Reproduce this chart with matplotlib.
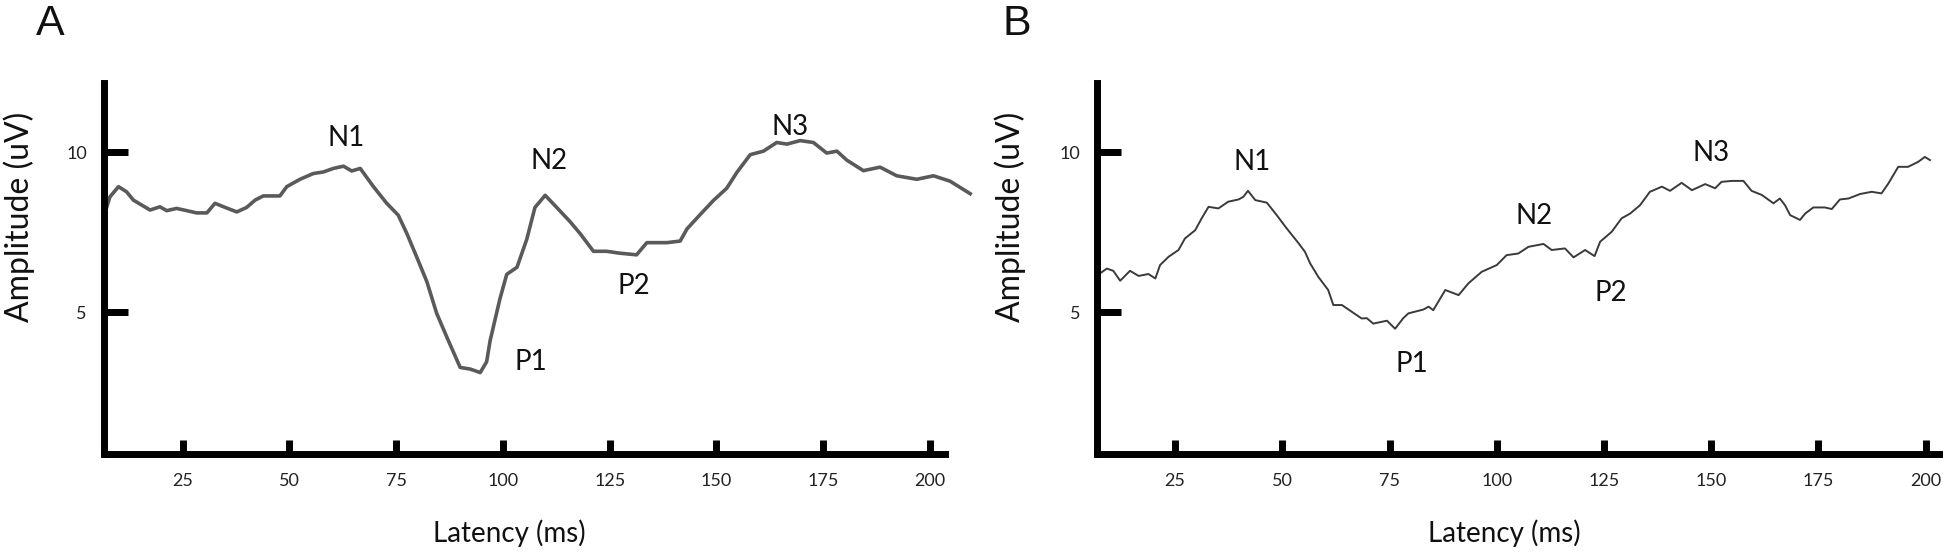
import matplotlib
matplotlib.use("Agg")
import matplotlib.pyplot as plt

# ---------------- data ----------------
a_latency = [6.5, 8.0, 10.0, 11.9, 13.5, 15.5, 17.4, 19.7, 21.3, 23.6, 26.0, 28.3, 30.7,
             32.6, 35.0, 37.7, 40.0, 42.0, 43.9, 47.8, 49.4, 52.5, 55.6, 58.0, 60.3,
             62.7, 64.6, 66.6, 69.7, 72.8, 75.5, 77.5, 79.8, 82.2, 84.5, 86.9, 90.0,
             92.3, 94.7, 96.2, 97.0, 99.3, 100.9, 103.3, 105.6, 107.5, 109.9, 112.6,
             115.7, 118.1, 121.2, 124.3, 127.4, 131.3, 133.7, 138.4, 141.5, 143.1,
             146.2, 149.3, 152.4, 154.8, 157.9, 161.0, 164.1, 166.5, 169.6, 172.7,
             175.8, 178.2, 180.5, 184.4, 188.3, 192.2, 196.9, 200.8, 204.7, 209.4]
a_amplitude = [7.95, 8.60, 8.92, 8.76, 8.50, 8.34, 8.19, 8.29, 8.17, 8.24, 8.17, 8.10, 8.10,
               8.40, 8.27, 8.13, 8.27, 8.50, 8.63, 8.63, 8.92, 9.15, 9.33, 9.38, 9.49,
               9.56, 9.41, 9.49, 8.92, 8.40, 8.03, 7.46, 6.73, 5.95, 4.96, 4.21, 3.27,
               3.22, 3.11, 3.45, 4.10, 5.41, 6.18, 6.40, 7.28, 8.27, 8.65, 8.27,
               7.83, 7.45, 6.90, 6.90, 6.84, 6.79, 7.17, 7.17, 7.22, 7.60,
               8.05, 8.49, 8.87, 9.37, 9.92, 10.03, 10.30, 10.25, 10.36, 10.30,
               9.97, 10.03, 9.75, 9.42, 9.53, 9.26, 9.15, 9.26, 9.09, 8.70]

b_latency = [6.8, 7.5, 9.1, 10.6, 12.2, 14.5, 16.5, 18.8, 20.4, 21.5, 23.5, 25.8, 27.3, 29.7,
             31.2, 32.8, 35.1, 37.4, 39.8, 40.9, 42.0, 43.7, 46.4, 48.7, 51.0, 53.8,
             55.3, 56.5, 58.4, 60.7, 61.9, 63.9, 66.2, 68.5, 69.7, 71.2, 74.4, 76.3,
             78.2, 79.4, 82.9, 84.1, 85.2, 88.0, 91.1, 93.4, 96.5, 100.0, 102.3, 105.0,
             107.4, 110.9, 112.8, 115.9, 117.9, 120.6, 122.8, 124.1, 126.8, 129.1,
             131.1, 133.4, 135.7, 138.5, 140.4, 143.1, 145.5, 148.6, 150.9, 152.4,
             154.8, 157.5, 159.4, 161.8, 164.5, 166.0, 167.2, 168.4, 170.7, 171.9,
             173.8, 176.5, 178.1, 180.0, 182.0, 184.7, 187.4, 189.7, 191.3, 193.6,
             195.9, 198.3, 199.8, 201.0]
b_amplitude = [6.15, 6.21, 6.36, 6.29, 5.98, 6.29, 6.13, 6.19, 6.05, 6.47, 6.73, 6.94, 7.30, 7.56,
               7.93, 8.29, 8.24, 8.45, 8.52, 8.60, 8.79, 8.50, 8.42, 8.03, 7.62, 7.15,
               6.88, 6.52, 6.10, 5.69, 5.22, 5.22, 5.01, 4.80, 4.81, 4.64, 4.73, 4.48,
               4.81, 4.96, 5.08, 5.17, 5.06, 5.69, 5.53, 5.90, 6.26, 6.47, 6.78, 6.83,
               7.04, 7.13, 6.94, 6.99, 6.71, 6.94, 6.75, 7.20, 7.51, 7.93,
               8.08, 8.34, 8.76, 8.92, 8.79, 9.04, 8.81, 9.00, 8.87, 9.07,
               9.10, 9.10, 8.79, 8.66, 8.40, 8.55, 8.34, 8.03, 7.88, 8.08,
               8.27, 8.27, 8.22, 8.52, 8.55, 8.69, 8.76, 8.71, 9.02, 9.54,
               9.54, 9.70, 9.85, 9.75]

x_ticks = [25, 50, 75, 100, 125, 150, 175, 200]
y_ticks = [5, 10]

peak_names = ["N1", "P1", "N2", "P2", "N3"]
a_peak_x = [63.4, 106.6, 110.7, 130.6, 167.3]
a_peak_y = [10.45, 3.44, 9.72, 5.80, 10.79]
b_peak_x = [42.9, 80.1, 108.6, 126.6, 150.0]
b_peak_y = [9.70, 3.37, 8.00, 5.60, 9.98]

# ---------------- figure ----------------
W, H = 1943, 552
fig = plt.figure(figsize=(W / 100, H / 100), dpi=100)
FONT = ["Lato", "DejaVu Sans"]

def px(x, y):
    return x / W, 1 - y / H

def setup(ax, xlim):
    ax.set_xlim(*xlim)
    ax.set_ylim(0.58, 12.16)
    for s in ["top", "right"]:
        ax.spines[s].set_visible(False)
    for s in ["left", "bottom"]:
        ax.spines[s].set_linewidth(5)
        ax.spines[s].set_color("black")
        ax.spines[s].set_capstyle("projecting")
    ax.set_xticks(x_ticks)
    ax.set_yticks(y_ticks)
    ax.tick_params(axis="x", direction="in", length=10, width=5, pad=14,
                   labelsize=13, color="black")
    ax.tick_params(axis="y", direction="in", length=17, width=5, pad=12,
                   labelsize=13, color="black")
    for lab in ax.get_xticklabels() + ax.get_yticklabels():
        lab.set_family(FONT)
        lab.set_color("#222222")
    ax.set_facecolor("white")

axA = fig.add_axes([103.5 / W, 1 - 453.5 / H, (945 - 103.5) / W, (453.5 - 83) / H])
setup(axA, (6.5, 203.5))
axA.plot(a_latency, a_amplitude, color="#5a5a5a", lw=2.6, clip_on=False,
         solid_joinstyle="round")

axB = fig.add_axes([1097 / W, 1 - 453.5 / H, (1942 - 1097) / W, (453.5 - 83) / H])
setup(axB, (6.8, 203.8))
axB.plot(b_latency, b_amplitude, color="#3a3a3a", lw=1.4, clip_on=False)

for ax, xs, ys in [(axA, a_peak_x, a_peak_y), (axB, b_peak_x, b_peak_y)]:
    for name, x, y in zip(peak_names, xs, ys):
        ax.text(x, y, name, ha="center", va="center", fontsize=20, family=FONT,
                color="#111111")

# axis labels
for xc in (19, 1010):
    fig.text(*px(xc, 217), "Amplitude (uV)", rotation=90, ha="center", va="center",
             fontsize=23, family=FONT, color="#111111")
for xc in (509, 1504):
    fig.text(*px(xc, 533), "Latency (ms)", ha="center", va="center",
             fontsize=20, family=FONT, color="#111111")

# panel letters
fig.text(*px(50, 24), "A", ha="center", va="center", fontsize=31,
         family=["Liberation Sans", "DejaVu Sans"], color="#111111")
fig.text(*px(1017, 24), "B", ha="center", va="center", fontsize=31,
         family=["Liberation Sans", "DejaVu Sans"], color="#111111")

fig.savefig("out.png", dpi=100, facecolor="white")
